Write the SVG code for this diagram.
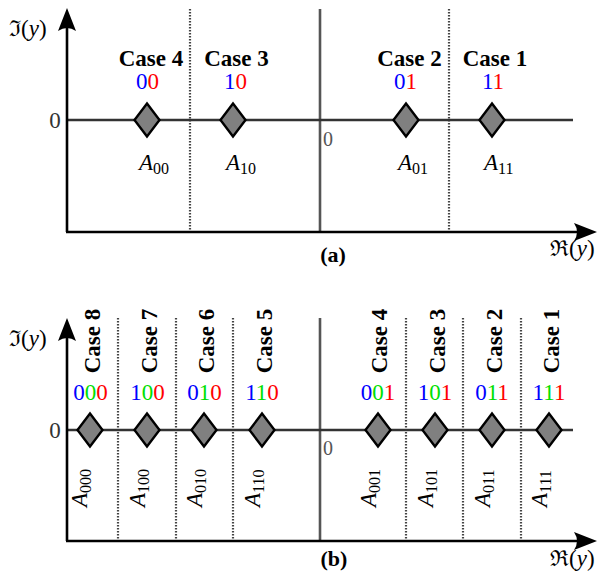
<svg xmlns="http://www.w3.org/2000/svg" width="597" height="580" viewBox="0 0 597 580">
<style>
.axis{stroke:#000;stroke-width:2.6;fill:none}
.zero{stroke:#333;stroke-width:2.4;fill:none}
.center{stroke:#555;stroke-width:2.6;fill:none}
.dot{stroke:#444;stroke-width:2.2;stroke-dasharray:1.5 1.5;fill:none}
.dia{fill:#808080;stroke:#000;stroke-width:2.4;stroke-linejoin:miter}
.case{font-family:"Liberation Serif",serif;font-weight:bold;font-size:23px;fill:#000}
.bits{font-family:"Liberation Serif",serif;font-size:23px}
.A{font-family:"Liberation Serif",serif;font-style:italic;font-size:23px;fill:#000}
.sub{font-style:normal;font-size:16px}
.lab{font-family:"Liberation Serif",serif;font-size:23px;fill:#333}
.org{font-family:"Liberation Serif",serif;font-size:20px;fill:#555}
.frak{font-family:"DejaVu Serif","Liberation Serif",serif;font-size:22px;fill:#000}
.par{font-family:"Liberation Serif",serif;font-size:23px}
.pl{font-family:"Liberation Serif",serif;font-weight:bold;font-size:22px;fill:#000}
.b{fill:#0000ff}.g{fill:#00e000}.r{fill:#ff0000}
.ah{fill:#000}
</style>
<defs>
<path id="dm" class="dia" d="M0,-16.5 L12.5,0 L0,16.5 L-12.5,0 Z"/>
</defs>

<g id="connectors">
<line class="dot" x1="190" y1="9" x2="190" y2="231"/>
<line class="dot" x1="449" y1="9" x2="449" y2="231"/>
<line class="center" x1="320" y1="9" x2="320" y2="232"/>
<line class="zero" x1="67" y1="120" x2="573" y2="120"/>
<line class="axis" x1="67" y1="26" x2="67" y2="232"/>
<line class="axis" x1="66" y1="232" x2="580" y2="232"/>
<path class="ah" d="M67,8 L76,31 Q67,25 58,31 Z"/>
<path class="ah" d="M597,232 L574,241 Q580,232 574,223 Z"/>
<line class="dot" x1="118" y1="318" x2="118" y2="539"/>
<line class="dot" x1="176" y1="318" x2="176" y2="539"/>
<line class="dot" x1="233" y1="318" x2="233" y2="539"/>
<line class="dot" x1="406" y1="318" x2="406" y2="539"/>
<line class="dot" x1="463" y1="318" x2="463" y2="539"/>
<line class="dot" x1="521" y1="318" x2="521" y2="539"/>
<line class="center" x1="320" y1="318" x2="320" y2="540"/>
<line class="zero" x1="67" y1="430" x2="573" y2="430"/>
<line class="axis" x1="67" y1="336" x2="67" y2="541"/>
<line class="axis" x1="66" y1="541" x2="580" y2="541"/>
<path class="ah" d="M67,318 L76,341 Q67,335 58,341 Z"/>
<path class="ah" d="M597,541 L574,550 Q580,541 574,532 Z"/>
</g>

<g id="panel-a-labels">
<text class="frak" x="9" y="36">ℑ<tspan class="par">(</tspan><tspan class="par" font-style="italic">y</tspan><tspan class="par">)</tspan></text>
<text class="frak" x="550" y="256">ℜ<tspan class="par">(</tspan><tspan class="par" font-style="italic">y</tspan><tspan class="par">)</tspan></text>
<text class="lab" x="55" y="128" text-anchor="middle">0</text>
<text class="org" x="328" y="146" text-anchor="middle">0</text>
<text class="pl" x="333" y="262" text-anchor="middle">(a)</text>
</g>

<g id="a-case4">
<text class="case" x="151" y="66" text-anchor="middle">Case 4</text>
<text class="bits" x="147.5" y="89" text-anchor="middle"><tspan class="b">0</tspan><tspan class="r">0</tspan></text>
<use href="#dm" x="147" y="120"/>
<text class="A" x="139" y="170">A<tspan class="sub" dy="4">00</tspan></text>
</g>
<g id="a-case3">
<text class="case" x="236.5" y="66" text-anchor="middle">Case 3</text>
<text class="bits" x="235.5" y="89" text-anchor="middle"><tspan class="b">1</tspan><tspan class="r">0</tspan></text>
<use href="#dm" x="233" y="120"/>
<text class="A" x="226" y="170">A<tspan class="sub" dy="4">10</tspan></text>
</g>
<g id="a-case2">
<text class="case" x="409.5" y="66" text-anchor="middle">Case 2</text>
<text class="bits" x="405.5" y="89" text-anchor="middle"><tspan class="b">0</tspan><tspan class="r">1</tspan></text>
<use href="#dm" x="406" y="120"/>
<text class="A" x="398" y="170">A<tspan class="sub" dy="4">01</tspan></text>
</g>
<g id="a-case1">
<text class="case" x="495" y="66" text-anchor="middle">Case 1</text>
<text class="bits" x="493" y="89" text-anchor="middle"><tspan class="b">1</tspan><tspan class="r">1</tspan></text>
<use href="#dm" x="492" y="120"/>
<text class="A" x="484" y="170">A<tspan class="sub" dy="4">11</tspan></text>
</g>

<g id="panel-b-labels">
<text class="frak" x="9" y="346">ℑ<tspan class="par">(</tspan><tspan class="par" font-style="italic">y</tspan><tspan class="par">)</tspan></text>
<text class="frak" x="550" y="566">ℜ<tspan class="par">(</tspan><tspan class="par" font-style="italic">y</tspan><tspan class="par">)</tspan></text>
<text class="lab" x="55" y="438" text-anchor="middle">0</text>
<text class="org" x="328" y="455" text-anchor="middle">0</text>
<text class="pl" x="334" y="566" text-anchor="middle">(b)</text>
</g>

<g id="b-case8">
<text class="case" transform="translate(100,341) rotate(-90)" text-anchor="middle">Case 8</text>
<text class="bits" x="90.5" y="400" text-anchor="middle"><tspan class="b">0</tspan><tspan class="g">0</tspan><tspan class="r">0</tspan></text>
<use href="#dm" x="90" y="430"/>
<text class="A" transform="translate(87,507) rotate(-90)">A<tspan class="sub" dy="4">000</tspan></text>
</g>
<g id="b-case7">
<text class="case" transform="translate(157,341) rotate(-90)" text-anchor="middle">Case 7</text>
<text class="bits" x="147.5" y="400" text-anchor="middle"><tspan class="b">1</tspan><tspan class="g">0</tspan><tspan class="r">0</tspan></text>
<use href="#dm" x="147" y="430"/>
<text class="A" transform="translate(145,507) rotate(-90)">A<tspan class="sub" dy="4">100</tspan></text>
</g>
<g id="b-case6">
<text class="case" transform="translate(214,341) rotate(-90)" text-anchor="middle">Case 6</text>
<text class="bits" x="204.5" y="400" text-anchor="middle"><tspan class="b">0</tspan><tspan class="g">1</tspan><tspan class="r">0</tspan></text>
<use href="#dm" x="204" y="430"/>
<text class="A" transform="translate(202,507) rotate(-90)">A<tspan class="sub" dy="4">010</tspan></text>
</g>
<g id="b-case5">
<text class="case" transform="translate(272,341) rotate(-90)" text-anchor="middle">Case 5</text>
<text class="bits" x="262" y="400" text-anchor="middle"><tspan class="b">1</tspan><tspan class="g">1</tspan><tspan class="r">0</tspan></text>
<use href="#dm" x="262" y="430"/>
<text class="A" transform="translate(260,507) rotate(-90)">A<tspan class="sub" dy="4">110</tspan></text>
</g>
<g id="b-case4">
<text class="case" transform="translate(387,341) rotate(-90)" text-anchor="middle">Case 4</text>
<text class="bits" x="378" y="400" text-anchor="middle"><tspan class="b">0</tspan><tspan class="g">0</tspan><tspan class="r">1</tspan></text>
<use href="#dm" x="378" y="430"/>
<text class="A" transform="translate(376,507) rotate(-90)">A<tspan class="sub" dy="4">001</tspan></text>
</g>
<g id="b-case3">
<text class="case" transform="translate(445,341) rotate(-90)" text-anchor="middle">Case 3</text>
<text class="bits" x="435" y="400" text-anchor="middle"><tspan class="b">1</tspan><tspan class="g">0</tspan><tspan class="r">1</tspan></text>
<use href="#dm" x="435" y="430"/>
<text class="A" transform="translate(433,507) rotate(-90)">A<tspan class="sub" dy="4">101</tspan></text>
</g>
<g id="b-case2">
<text class="case" transform="translate(502,341) rotate(-90)" text-anchor="middle">Case 2</text>
<text class="bits" x="492" y="400" text-anchor="middle"><tspan class="b">0</tspan><tspan class="g">1</tspan><tspan class="r">1</tspan></text>
<use href="#dm" x="492" y="430"/>
<text class="A" transform="translate(490,507) rotate(-90)">A<tspan class="sub" dy="4">011</tspan></text>
</g>
<g id="b-case1">
<text class="case" transform="translate(559,341) rotate(-90)" text-anchor="middle">Case 1</text>
<text class="bits" x="549" y="400" text-anchor="middle"><tspan class="b">1</tspan><tspan class="g">1</tspan><tspan class="r">1</tspan></text>
<use href="#dm" x="549" y="430"/>
<text class="A" transform="translate(547,507) rotate(-90)">A<tspan class="sub" dy="4">111</tspan></text>
</g>
</svg>
